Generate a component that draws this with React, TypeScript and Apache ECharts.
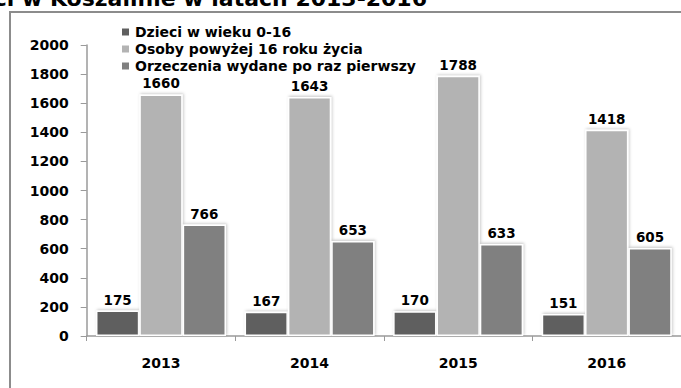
import React, { useEffect, useRef } from "react";
import * as echarts from "echarts";

const years = ["2013", "2014", "2015", "2016"];
const seriesNames = [
  "Dzieci w wieku 0-16",
  "Osoby powyżej 16 roku życia",
  "Orzeczenia wydane po raz pierwszy",
];
const children = [175, 167, 170, 151];
const adults = [1660, 1643, 1788, 1418];
const firstTime = [766, 653, 633, 605];
const seriesColors = ["#5f5f5f", "#b3b3b3", "#808080"];
const yTicks = { min: 0, max: 2000, interval: 200 };

const titleText =
  "Liczba orzeczeń o niepełnosprawności w Koszalinie w latach 2013-2016";

const FONT = "'DejaVu Sans', Verdana, sans-serif";

export default function App() {
  const ref = useRef<HTMLDivElement>(null);

  useEffect(() => {
    if (!ref.current) return;
    const chart = echarts.init(ref.current, null, { renderer: "svg" });
    const values = [children, adults, firstTime];

    chart.setOption({
      animation: false,
      backgroundColor: "#ffffff",
      textStyle: { fontFamily: FONT },
      graphic: [
        {
          type: "rect",
          z: 0,
          silent: true,
          shape: { x: 10, y: 12, width: 720, height: 420 },
          style: { fill: "none", stroke: "#8c8c8c", lineWidth: 2 },
        },
        {
          type: "text",
          z: 10,
          x: 427,
          y: -2,
          style: {
            text: titleText,
            font: `bold 22px ${FONT}`,
            fill: "#000",
            align: "right",
            verticalAlign: "middle",
          },
        },
      ],
      legend: {
        orient: "vertical",
        left: 115,
        top: 20,
        itemWidth: 9,
        itemHeight: 9,
        itemGap: 3,
        icon: "rect",
        data: seriesNames,
        textStyle: {
          fontFamily: FONT,
          fontWeight: "bold",
          fontSize: 14,
          color: "#000",
        },
      },
      grid: { left: 86.7, right: -1.7, top: 45, bottom: 52, containLabel: false },
      xAxis: {
        type: "category",
        data: years,
        axisLine: { lineStyle: { color: "#9a9a9a", width: 1.5 } },
        axisTick: { show: true, length: 5, lineStyle: { color: "#9a9a9a" } },
        axisLabel: {
          margin: 20,
          fontFamily: FONT,
          fontWeight: "bold",
          fontSize: 14,
          color: "#000",
        },
      },
      yAxis: {
        type: "value",
        min: yTicks.min,
        max: yTicks.max,
        interval: yTicks.interval,
        splitLine: { show: false },
        axisLine: { show: true, lineStyle: { color: "#9a9a9a", width: 1.5 } },
        axisTick: { show: true, length: 6, lineStyle: { color: "#9a9a9a" } },
        axisLabel: {
          margin: 18,
          fontFamily: FONT,
          fontWeight: "bold",
          fontSize: 14,
          color: "#000",
          formatter: (v: number) => String(v),
        },
      },
      series: seriesNames.map((name, i) => ({
        name,
        type: "bar",
        data: values[i],
        barGap: "0%",
        barCategoryGap: "12.5%",
        itemStyle: {
          color: seriesColors[i],
          borderColor: "#ffffff",
          borderWidth: 1.5,
          shadowColor: "rgba(0,0,0,0.22)",
          shadowBlur: 3,
          shadowOffsetX: 1,
          shadowOffsetY: -1,
        },
        label: {
          show: true,
          position: "top",
          distance: 4,
          fontFamily: FONT,
          fontWeight: "bold",
          fontSize: 13.5,
          color: "#000",
        },
      })),
    });

    return () => chart.dispose();
  }, []);

  return (
    <div
      ref={ref}
      style={{ position: "fixed", left: 0, top: 0, width: 681, height: 388 }}
    />
  );
}
